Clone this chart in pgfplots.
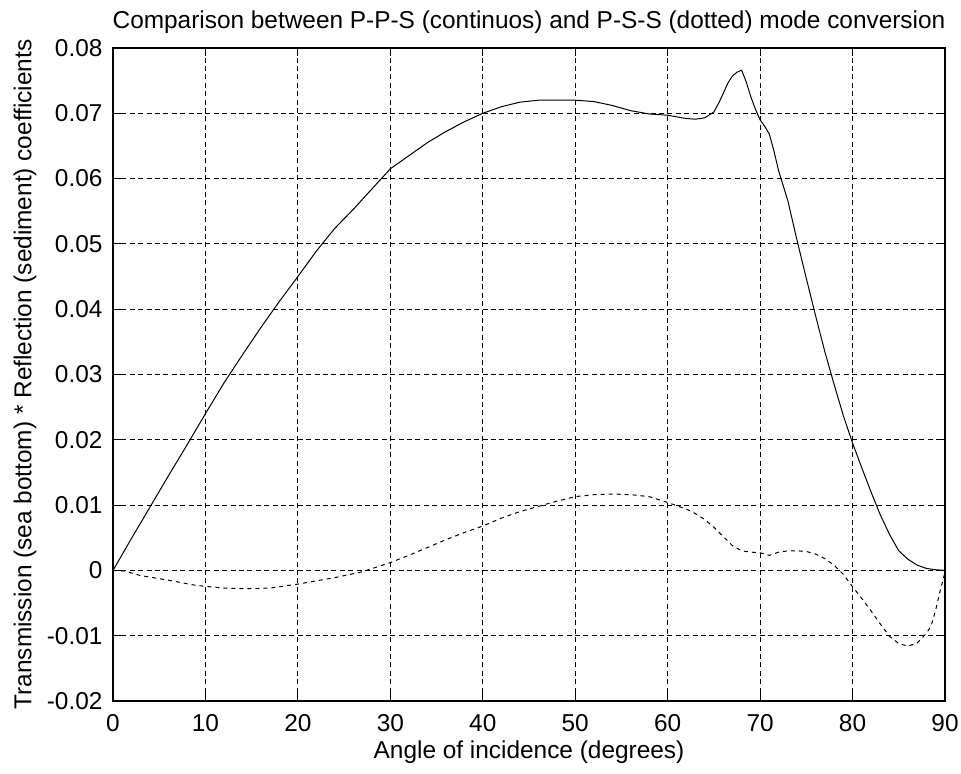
\documentclass[border=0pt]{standalone}
\usepackage{fontspec}
\setmainfont{Liberation Sans}
\usepackage{pgfplots}
\pgfplotsset{compat=1.18}
\begin{document}
\fontsize{12.2}{14.6}\selectfont
\begin{tikzpicture}
\path[use as bounding box] (-56.5pt,-36pt) rectangle (424pt,350.5pt);
\begin{axis}[
  at={(0pt,0pt)}, anchor=south west,
  scale only axis, width=416pt, height=326.5pt,
  xmin=0, xmax=90, ymin=-0.02, ymax=0.08,
  xtick={0,10,20,30,40,50,60,70,80,90},
  xticklabels={0,10,20,30,40,50,60,70,80,90},
  ytick={-0.02,-0.01,0,0.01,0.02,0.03,0.04,0.05,0.06,0.07,0.08},
  yticklabels={-0.02,-0.01,0,0.01,0.02,0.03,0.04,0.05,0.06,0.07,0.08},
  scaled y ticks=false,
  grid=major,
  major grid style={black, line width=0.55pt, dash pattern=on 2.5pt off 1.7pt},
  axis line style={black, line width=0.6pt},
  major tick length=4pt,
  tick style={black, line width=0.5pt},
  tick align=inside,
  ticklabel style={font=\fontsize{12.2}{14.6}\selectfont},
  yticklabel style={xshift=-1.0pt},
  xticklabel style={yshift=-2.5pt},
  title={Comparison between P-P-S (continuos) and P-S-S (dotted) mode conversion},
  title style={at={(axis description cs:0.5,1.0214)}, anchor=center, font=\fontsize{12.2}{14.6}\selectfont},
  xlabel={Angle of incidence (degrees)},
  xlabel style={at={(axis description cs:0.5,-0.079)}, anchor=center, font=\fontsize{12.2}{14.6}\selectfont},
  ylabel={Transmission (sea bottom) * Reflection (sediment) coefficients},
  ylabel style={at={(axis description cs:-0.1058,0.5)}, anchor=center, rotate=0, font=\fontsize{12.2}{14.6}\selectfont},
]
\addplot[black, line width=0.5pt, line join=round] coordinates {
(0,0) (2,0.0049) (4,0.0097) (6,0.0145) (8,0.0192) (10,0.0240) (12,0.0287)
(14,0.0330) (16,0.0372) (18,0.0412) (20,0.0450) (22,0.0489) (24,0.0524)
(26,0.0553) (28,0.0584) (30,0.0615) (32,0.0635) (34,0.0655) (36,0.0672)
(38,0.0687) (40,0.0700) (42,0.0710) (44,0.0717) (46,0.0720) (48,0.0720)
(50,0.0720) (52,0.0718) (54,0.0712) (56,0.0704) (58,0.0699) (60,0.0697)
(62,0.0692) (63,0.0691) (64,0.0693) (65,0.0702) (65.5,0.0715) (66,0.0730)
(66.5,0.0746) (67,0.0757) (67.5,0.0763) (68,0.0766) (68.5,0.0748) (69,0.0725)
(69.5,0.0706) (70,0.0690) (70.5,0.0680) (71,0.0668) (71.5,0.0642) (72,0.0612)
(73,0.0566) (74,0.0505) (75,0.0447) (76,0.0390) (77,0.0335) (78,0.0285)
(79,0.0237) (80,0.0195) (81,0.0157) (82,0.0120) (83,0.0085) (84,0.0055)
(85,0.0030) (86,0.0017) (87,0.0008) (88,0.0003) (89,0.0001) (90,0)
};
\addplot[black, line width=0.5pt, line join=round, dash pattern=on 2pt off 2pt] coordinates {
(0,0) (1.3,-0.0001) (3,-0.0008) (6,-0.0015) (9,-0.0023) (12,-0.0027)
(14,-0.0028) (17,-0.0027) (20,-0.0021) (22,-0.0016) (24,-0.0011) (27,-0.0002)
(30,0.0012) (32,0.0023) (34,0.0035) (36,0.0047) (38,0.0058) (40,0.0068)
(42,0.0080) (44,0.0090) (46,0.0098) (48,0.0106) (50,0.0113) (52,0.0116)
(54,0.0117) (56,0.0116) (58,0.0113) (60,0.0104) (62,0.0094) (63,0.0087)
(64,0.0078) (65,0.0066) (66,0.0052) (67,0.0038) (68,0.0030) (69,0.0028)
(70,0.0027) (71,0.0023) (72,0.0028) (73,0.0030) (74,0.0030) (75,0.0029)
(76,0.0025) (77,0.0018) (78,0.0008) (79,-0.0006) (80,-0.0025) (81,-0.0043)
(82,-0.0062) (83,-0.0082) (84,-0.0101) (85,-0.0112) (86,-0.0116) (87,-0.0111)
(88,-0.0096) (88.5,-0.0085) (89,-0.0060) (89.5,-0.0030) (90,-0.0003)
};
\end{axis}
\end{tikzpicture}
\end{document}
